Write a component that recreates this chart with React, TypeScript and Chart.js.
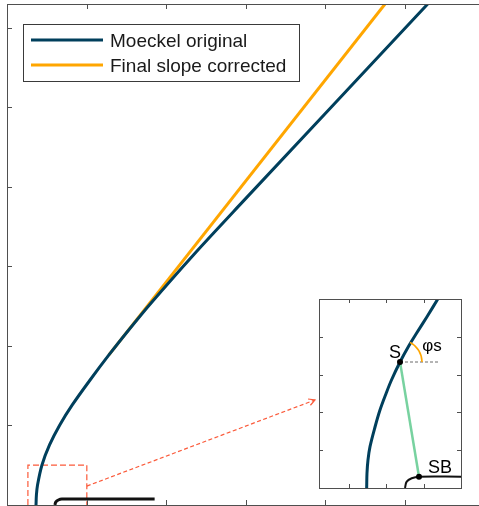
import React, { useEffect, useRef } from "react";
import { Chart, registerables } from "chart.js";

Chart.register(...registerables);

// ---- colours ----
const NAVY = "#003f5c";
const ORANGE = "#ffa600";
const RED = "#fb5a3a";
const GREEN = "#78d2a0";
const AXIS = "#4f4f4f";
const INK = "#111111";

// ---- main plot: blade profiles ----
const moeckelX = [0.365, 0.37, 0.384, 0.44, 0.535, 0.664, 0.821, 1.045, 1.282, 1.531, 1.791, 2.345, 2.928, 5.292];
const moeckelY = [0, 0.126, 0.252, 0.503, 0.755, 1.006, 1.258, 1.572, 1.887, 2.201, 2.516, 3.145, 3.774, 6.3];
const correctedX = [1.282, 4.755];
const correctedY = [1.887, 6.3];

// ground / bed outline near the origin
const bedX = [0.602, 0.615, 0.646, 0.69, 1.857];
const bedY = [0, 0.038, 0.063, 0.075, 0.075];

// zoom window and pointer to the detail panel
const zoomBoxX = [0.263, 0.263, 1.004, 1.004];
const zoomBoxY = [0, 0.502, 0.502, 0];
const pointerX = [1.004, 3.874];
const pointerY = [0.238, 1.321];

const mainXTicks = [1, 2, 3, 4, 5];
const mainYTicks = [1, 2, 3, 4, 5, 6];
const seriesLabels = ["Moeckel original", "Final slope corrected"];

// ---- detail panel ----
const detailX = [1.476, 1.484, 1.511, 1.565, 1.699, 1.832, 2.0, 2.14, 2.368, 2.59, 2.814, 3.09, 3.38];
const detailY = [0, 0.389, 0.741, 1.093, 1.614, 2.063, 2.513, 2.857, 3.333, 3.738, 4.1, 4.532, 5.0];
const pointS = { x: 2.368, y: 3.333 };
const pointSB = { x: 2.876, y: 0.299 };
const horizEndX = 3.39;
const detailBedX = [2.501, 2.547, 2.681, 2.876, 4.0];
const detailBedY = [0, 0.167, 0.257, 0.299, 0.299];
const detailXTicks = [1, 2, 3];
const detailYTicks = [1, 2, 3, 4];

const FONT = '"Liberation Sans", Arial, sans-serif';

const zip = (xs: number[], ys: number[]) => xs.map((x, i) => ({ x, y: ys[i] }));

function framePlugin(xTicks: number[], yTicks: number[], len: number) {
  return {
    id: "frame",
    afterDatasetsDraw(chart: any) {
      const { ctx, chartArea, scales } = chart;
      const { left, right, top, bottom } = chartArea;
      ctx.save();
      ctx.strokeStyle = AXIS;
      ctx.lineWidth = 1;
      ctx.beginPath();
      for (const v of xTicks) {
        const p = Math.round(scales.x.getPixelForValue(v)) + 0.5;
        ctx.moveTo(p, bottom);
        ctx.lineTo(p, bottom - len);
        ctx.moveTo(p, top);
        ctx.lineTo(p, top + len);
      }
      for (const v of yTicks) {
        const p = Math.round(scales.y.getPixelForValue(v)) + 0.5;
        ctx.moveTo(left, p);
        ctx.lineTo(left + len, p);
        ctx.moveTo(right, p);
        ctx.lineTo(right - len, p);
      }
      ctx.stroke();
      ctx.strokeRect(left + 0.5, top + 0.5, right - left, bottom - top);
      ctx.restore();
    },
  };
}

const legendPlugin = {
  id: "boxLegend",
  afterDraw(chart: any) {
    const { ctx } = chart;
    const ds = chart.data.datasets.slice(0, seriesLabels.length);
    ctx.save();
    ctx.fillStyle = "#ffffff";
    ctx.fillRect(23.5, 24.5, 276, 57);
    ctx.strokeStyle = "#3a3a3a";
    ctx.lineWidth = 1;
    ctx.strokeRect(23.5, 24.5, 276, 57);
    ctx.font = `19px ${FONT}`;
    ctx.textBaseline = "alphabetic";
    ds.forEach((d: any, i: number) => {
      const cy = 40 + i * 25;
      ctx.strokeStyle = d.borderColor;
      ctx.lineWidth = 3;
      ctx.beginPath();
      ctx.moveTo(31, cy);
      ctx.lineTo(103, cy);
      ctx.stroke();
      ctx.fillStyle = "#1a1a1a";
      ctx.fillText(d.label, 110, cy + 7);
    });
    ctx.restore();
  },
};

const arrowPlugin = {
  id: "arrowHead",
  afterDatasetsDraw(chart: any) {
    const idx = chart.data.datasets.findIndex((d: any) => d.label === "pointer");
    if (idx < 0) return;
    const pts = chart.getDatasetMeta(idx).data;
    const a = pts[pts.length - 2];
    const b = pts[pts.length - 1];
    const ang = Math.atan2(b.y - a.y, b.x - a.x);
    const { ctx } = chart;
    ctx.save();
    ctx.strokeStyle = RED;
    ctx.lineWidth = 1.2;
    ctx.beginPath();
    const L = 7;
    ctx.moveTo(b.x - L * Math.cos(ang - 0.5), b.y - L * Math.sin(ang - 0.5));
    ctx.lineTo(b.x, b.y);
    ctx.lineTo(b.x - L * Math.cos(ang + 0.5), b.y - L * Math.sin(ang + 0.5));
    ctx.stroke();
    ctx.restore();
  },
};

const whiteBg = {
  id: "whiteBg",
  beforeDraw(chart: any) {
    const { ctx, chartArea } = chart;
    ctx.save();
    ctx.fillStyle = "#ffffff";
    ctx.fillRect(chartArea.left, chartArea.top, chartArea.right - chartArea.left, chartArea.bottom - chartArea.top);
    ctx.restore();
  },
};

const detailMarks = {
  id: "detailMarks",
  afterDatasetsDraw(chart: any) {
    const { ctx, scales } = chart;
    const sx = scales.x.getPixelForValue(pointS.x);
    const sy = scales.y.getPixelForValue(pointS.y);
    // slope angle of the profile at S, from its neighbouring points
    const k = detailX.indexOf(pointS.x);
    const ax = scales.x.getPixelForValue(detailX[k - 1]);
    const ay = scales.y.getPixelForValue(detailY[k - 1]);
    const bx = scales.x.getPixelForValue(detailX[k + 1]);
    const by = scales.y.getPixelForValue(detailY[k + 1]);
    const phi = Math.atan2(ay - by, bx - ax);
    ctx.save();
    ctx.strokeStyle = ORANGE;
    ctx.lineWidth = 1.5;
    ctx.beginPath();
    ctx.arc(sx, sy, 22, 0, -phi, true);
    ctx.stroke();

    const bxp = scales.x.getPixelForValue(pointSB.x);
    const byp = scales.y.getPixelForValue(pointSB.y);
    ctx.fillStyle = "#000000";
    ctx.font = `18px ${FONT}`;
    ctx.textAlign = "center";
    ctx.textBaseline = "alphabetic";
    ctx.fillText("S", sx - 5, sy - 4);
    ctx.fillText("SB", bxp + 21, byp - 4);
    ctx.font = `17px ${FONT}`;
    ctx.fillText("φs", sx + 32, sy - 11);
    ctx.restore();
  },
};

export default function App() {
  const mainRef = useRef<HTMLCanvasElement>(null);
  const detailRef = useRef<HTMLCanvasElement>(null);

  useEffect(() => {
    const main = new Chart(mainRef.current!, {
      type: "line",
      data: {
        datasets: [
          {
            label: seriesLabels[0],
            data: zip(moeckelX, moeckelY),
            borderColor: NAVY,
            borderWidth: 3,
            tension: 0.3,
            pointRadius: 0,
          },
          {
            label: seriesLabels[1],
            data: zip(correctedX, correctedY),
            borderColor: ORANGE,
            borderWidth: 3,
            pointRadius: 0,
          },
          {
            label: "bed",
            data: zip(bedX, bedY),
            borderColor: INK,
            borderWidth: 3,
            tension: 0.4,
            pointRadius: 0,
          },
          {
            label: "zoom",
            data: zip(zoomBoxX, zoomBoxY),
            borderColor: RED,
            borderWidth: 1.2,
            borderDash: [6, 3],
            pointRadius: 0,
          },
          {
            label: "pointer",
            data: zip(pointerX, pointerY),
            borderColor: RED,
            borderWidth: 1.2,
            borderDash: [4, 2.5],
            pointRadius: 0,
          },
        ],
      },
      options: {
        responsive: false,
        animation: false,
        events: [],
        layout: { autoPadding: false, padding: { left: 7, top: 4, right: 1, bottom: 1 } },
        scales: {
          x: { type: "linear", display: false, min: 0, max: 6 },
          y: { type: "linear", display: false, min: 0, max: 6.3 },
        },
        plugins: { legend: { display: false }, tooltip: { enabled: false } },
      },
      plugins: [framePlugin(mainXTicks, mainYTicks, 5), arrowPlugin, legendPlugin],
    });

    const detail = new Chart(detailRef.current!, {
      type: "line",
      data: {
        datasets: [
          {
            label: "points",
            data: [pointS, pointSB],
            showLine: false,
            pointRadius: 3,
            pointBackgroundColor: "#000000",
            pointBorderColor: "#000000",
            pointBorderWidth: 0,
          },
          {
            label: "profile",
            data: zip(detailX, detailY),
            borderColor: NAVY,
            borderWidth: 3,
            tension: 0.35,
            pointRadius: 0,
          },
          {
            label: "chord",
            data: [pointS, pointSB],
            borderColor: GREEN,
            borderWidth: 2.5,
            pointRadius: 0,
          },
          {
            label: "horizontal",
            data: [pointS, { x: horizEndX, y: pointS.y }],
            borderColor: "#6a6a6a",
            borderWidth: 1,
            borderDash: [3, 2],
            pointRadius: 0,
          },
          {
            label: "bed",
            data: zip(detailBedX, detailBedY),
            borderColor: INK,
            borderWidth: 2,
            tension: 0.4,
            pointRadius: 0,
          },
        ],
      },
      options: {
        responsive: false,
        animation: false,
        events: [],
        layout: { autoPadding: false, padding: { left: 1, top: 1, right: 2, bottom: 2 } },
        scales: {
          x: { type: "linear", display: false, min: 0.2, max: 4.0 },
          y: { type: "linear", display: false, min: 0, max: 5 },
        },
        plugins: { legend: { display: false }, tooltip: { enabled: false } },
      },
      plugins: [whiteBg, framePlugin(detailXTicks, detailYTicks, 4), detailMarks],
    });

    return () => {
      main.destroy();
      detail.destroy();
    };
  }, []);

  return (
    <div
      style={{
        position: "fixed",
        left: 0,
        top: 0,
        width: 479,
        height: 506,
        overflow: "hidden",
        background: "#ffffff",
      }}
    >
      <canvas ref={mainRef} width={485} height={506} style={{ position: "absolute", left: 0, top: 0 }} />
      <canvas ref={detailRef} width={145} height={192} style={{ position: "absolute", left: 318, top: 298 }} />
    </div>
  );
}
